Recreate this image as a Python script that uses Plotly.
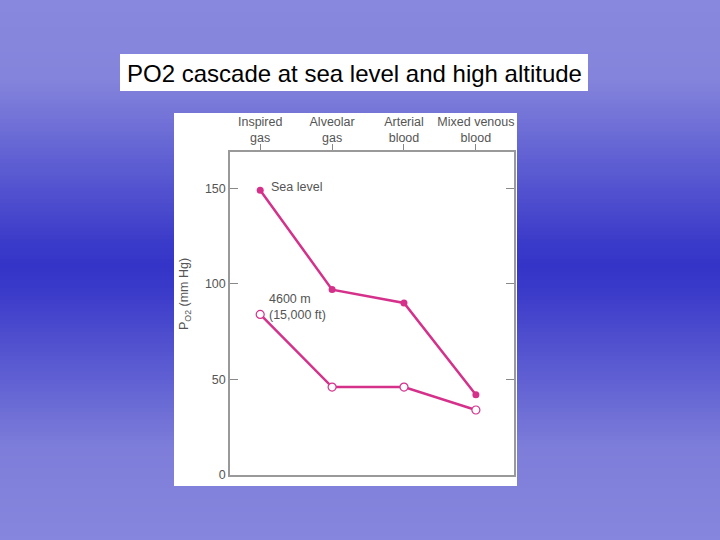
import plotly.graph_objects as go

categories = ["Inspired<br>gas", "Alveolar<br>gas", "Arterial<br>blood", "Mixed venous<br>blood"]
sea_level = [149, 97, 90, 42]
altitude_4600m = [84, 46, 46, 34]
y_ticks = [0, 50, 100, 150]

W, H = 720, 540
LINE = "#d5318b"
xpos = list(range(len(categories)))

fig = go.Figure()

# gradient background (style only)
stops = [(0, (136, 136, 222)), (80, (132, 132, 220)), (240, (60, 60, 202)),
         (267, (52, 52, 200)), (295, (60, 60, 202)), (450, (126, 126, 218)),
         (540, (134, 134, 222))]

def col(y):
    for (y0, c0), (y1, c1) in zip(stops[:-1], stops[1:]):
        if y0 <= y <= y1:
            t = (y - y0) / (y1 - y0)
            return "rgb(%d,%d,%d)" % tuple(round(a + (b - a) * t) for a, b in zip(c0, c1))
    return "rgb(%d,%d,%d)" % stops[-1][1]

shapes = []
step = 4
for yy in range(0, H, step):
    shapes.append(dict(type="rect", xref="paper", yref="paper", layer="below",
                       x0=-0.01, x1=1.01, y0=1 - (yy + step + 2) / H, y1=1 - (yy - 0.5) / H,
                       fillcolor=col(yy + step / 2), line=dict(width=0)))
# white chart panel
shapes.append(dict(type="rect", xref="paper", yref="paper", layer="below",
                   x0=174 / W, x1=517 / W, y0=1 - 486 / H, y1=1 - 113 / H,
                   fillcolor="white", line=dict(width=0)))
# title box
shapes.append(dict(type="rect", xref="paper", yref="paper", layer="below",
                   x0=120 / W, x1=588 / W, y0=1 - 91 / H, y1=1 - 54 / H,
                   fillcolor="white", line=dict(width=0)))

fig.add_trace(go.Scatter(x=xpos, y=sea_level, mode="lines+markers",
                         line=dict(color=LINE, width=2.5),
                         marker=dict(color=LINE, size=7, symbol="circle"),
                         showlegend=False))
fig.add_trace(go.Scatter(x=xpos, y=altitude_4600m, mode="lines+markers",
                         line=dict(color=LINE, width=2.5),
                         marker=dict(color="white", size=8, symbol="circle",
                                     line=dict(color=LINE, width=1.2)),
                         showlegend=False))

font_c = dict(family="Liberation Sans, Arial, sans-serif", size=12.5, color="#555555")

annotations = [
    dict(x=0.12, y=150.5, xref="x", yref="y", text="Sea level", showarrow=False,
         xanchor="left", yanchor="middle", font=font_c),
    dict(x=0.10, y=88, xref="x", yref="y", text="4600 m<br>(15,000 ft)", showarrow=False,
         xanchor="left", yanchor="middle", align="left", font=font_c),
    dict(x=185 / W, y=1 - 294 / H, xref="paper", yref="paper",
         text="P<sub>O2</sub> (mm Hg)", showarrow=False, textangle=-90,
         xanchor="center", yanchor="middle", font=font_c),
    dict(x=354 / W, y=1 - 73 / H, xref="paper", yref="paper",
         text="PO2 cascade at sea level and high altitude", showarrow=False,
         xanchor="center", yanchor="middle",
         font=dict(family="Liberation Sans, Arial, sans-serif", size=24, color="black")),
]

fig.update_layout(
    width=W, height=H, autosize=False,
    margin=dict(l=0, r=0, t=0, b=0, pad=0, autoexpand=False),
    paper_bgcolor="rgb(134,134,222)",
    plot_bgcolor="rgba(0,0,0,0)",
    showlegend=False,
    shapes=shapes,
    annotations=annotations,
    xaxis=dict(domain=[230 / W, 514 / W], range=[-0.42, 3.53], side="top",
               tickvals=xpos, ticktext=categories, ticks="outside", ticklen=6,
               tickcolor="#888888", showline=True, linecolor="#999999", linewidth=1.5,
               mirror=True, showgrid=False, zeroline=False, tickfont=font_c,
               automargin=False, ticklabelstandoff=-3),
    yaxis=dict(domain=[1 - 475 / H, 1 - 152 / H], range=[0, 169],
               tickvals=y_ticks, ticks="inside", ticklen=8, tickcolor="#888888",
               showline=True, linecolor="#999999", linewidth=1.5, mirror="ticks",
               showgrid=False, zeroline=False, tickfont=font_c, automargin=False),
)

fig.write_html("out.html", config={"displayModeBar": False},
               post_script="document.body.style.margin='0';document.body.style.padding='0';")
